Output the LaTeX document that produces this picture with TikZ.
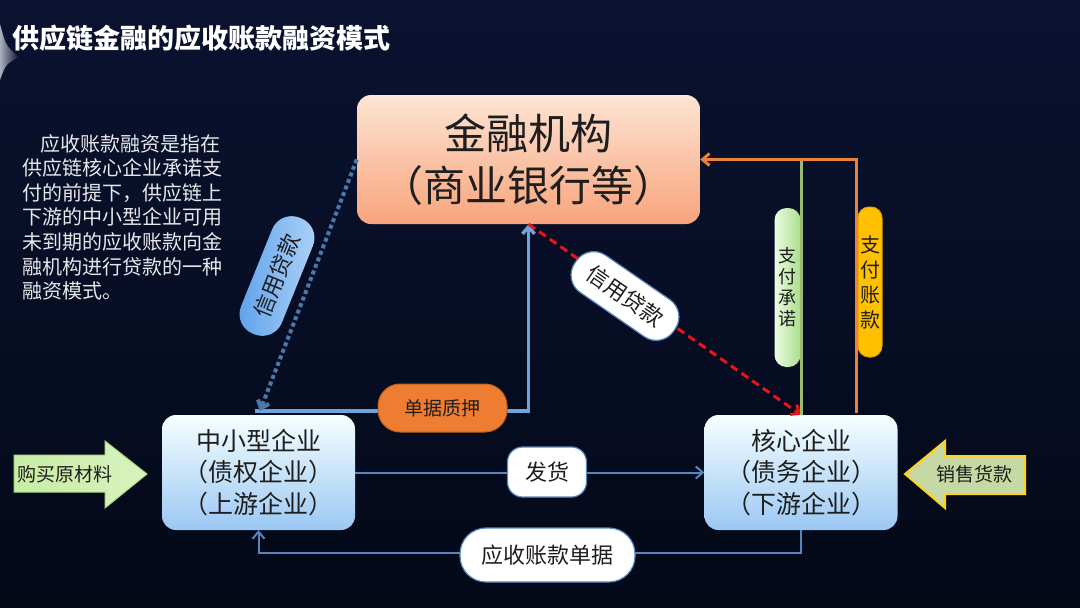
\documentclass[tikz,border=0pt]{standalone}
\usepackage{fontspec}
\setmainfont{Noto Sans CJK SC}
\usetikzlibrary{arrows.meta,calc}
\definecolor{bgtop}{HTML}{0A1230}
\definecolor{bgbot}{HTML}{040918}
\definecolor{txt}{HTML}{1E1E1E}
\definecolor{linkblue}{HTML}{5686C0}
\definecolor{pledgeblue}{HTML}{6FA3DC}
\definecolor{dotblue}{HTML}{4A78A8}
\definecolor{redline}{HTML}{E8141A}
\definecolor{orangeline}{HTML}{E8823D}
\definecolor{greenline}{HTML}{9BBB73}
\definecolor{pledgefill}{HTML}{EF7D31}
\definecolor{goldfill}{HTML}{FFC000}
\tikzset{
  tip/.style={-{Straight Barb[length=7pt,width=12pt]}},
  entity/.style={draw=none, rounded corners=14pt, minimum width=193pt, minimum height=115pt,
    top color=blue!4!cyan!4!white, bottom color={rgb,255:red,156;green,200;blue,244},
    align=center, text=txt, font=\fontsize{25}{31.5}\selectfont, inner sep=0pt},
  whitelabel/.style={fill=white, draw=linkblue, line width=1.2pt, text=txt,
    font=\fontsize{22}{26}\selectfont, inner sep=0pt},
  vlabel/.style={align=center, inner sep=0pt, text=txt}
}
\begin{document}
\begin{tikzpicture}[x=1pt,y=-1pt]
% background
\shade[top color=bgtop, bottom color=bgbot] (0,0) rectangle (1080,608);
\useasboundingbox (0,0) rectangle (1080,608);
% left notch
\shade[left color={rgb,255:red,170;green,174;blue,188}, right color=bgtop]
  (0,24) .. controls (6,46) .. (19,57) .. controls (6,64) .. (0,80) -- cycle;

% title
\node[anchor=west, text=white, font=\fontsize{27}{30}\selectfont\bfseries, inner sep=0pt]
  (title) at (12,38) {供应链金融的应收账款融资模式};

% description
\node[anchor=north west, align=left, inner sep=0pt, text={rgb,255:red,232;green,232;blue,236},
  font=\fontsize{20}{24.6}\selectfont] (desc) at (22,134)
  {\hspace*{18pt}应收账款融资是指在\\供应链核心企业承诺支\\付的前提下，供应链上\\下游的中小型企业可用\\未到期的应收账款向金\\融机构进行贷款的一种\\融资模式。};

% main boxes
\node[rounded corners=14pt, minimum width=343pt, minimum height=129pt,
  top color={rgb,255:red,253;green,228;blue,212}, bottom color={rgb,255:red,248;green,164;blue,124},
  align=center, text=txt, font=\fontsize{42}{52}\selectfont, inner sep=0pt]
  (bank) at (528.5,159.5) {金融机构\\（商业银行等）};
\node[entity] (sme) at (258.5,472.5) {中小型企业\\（债权企业）\\（上游企业）};
\node[entity] (core) at (801,472.5) {核心企业\\（债务企业）\\（下游企业）};

% coordinates
\coordinate (pstart) at ($(sme.north)+(-4,-4)$);
\coordinate (gtop) at (801,160);
\coordinate (obot) at (856,413);

% shipment
\draw[linkblue, line width=2pt, tip] (sme.east) -- (core.west);
\node[whitelabel, rounded corners=15pt, minimum width=79pt, minimum height=50pt]
  (ship) at (547,472) {发货};

% receivable documents
\draw[linkblue, line width=2pt, tip] (core.south) -- ++(0,23) -| (sme.south);
\node[whitelabel, rounded corners=26pt, minimum width=175pt, minimum height=54pt]
  (recv) at (547.5,555) {应收账款单据};

% pledge
\draw[pledgeblue, line width=3.5pt, tip] (pstart) -| (bank.south);
\node[fill=pledgefill, draw={rgb,255:red,190;green,95;blue,28}, line width=1pt,
  rounded corners=22pt, minimum width=129pt, minimum height=48pt, text=txt,
  font=\fontsize{19}{22}\selectfont, inner sep=0pt] (pledge) at (442.5,408) {单据质押};

% credit loan to SME (dotted)
\draw[dotblue, line width=4pt, dash pattern=on 4pt off 3pt, tip, shorten >=4pt] (bank.west) -- (sme.north);
\node[rotate=68, rounded corners=21pt, minimum width=125pt, minimum height=44pt,
  left color={rgb,255:red,92;green,160;blue,234}, right color={rgb,255:red,176;green,212;blue,248},
  text=txt, font=\fontsize{22}{26}\selectfont, inner sep=0pt] (credit1) at (277,276) {信用贷款};

% credit loan to core (red dashed)
\draw[redline, line width=3pt, dash pattern=on 8pt off 5pt, tip] (bank.south) -- (core.north);
\node[whitelabel, rotate=-34.6, rounded corners=21pt, minimum width=120pt, minimum height=45pt]
  (credit2) at (625,296) {信用贷款};

% payment promise (green)
\draw[greenline, line width=3pt] (core.north) -- (gtop);
\node[vlabel, rounded corners=12pt, minimum width=26pt, minimum height=159pt,
  left color={rgb,255:red,236;green,252;blue,226}, right color={rgb,255:red,170;green,222;blue,140},
  font=\fontsize{18}{21}\selectfont] (promise) at (787.5,287.5) {支\\付\\承\\诺};

% payment of accounts (orange)
\draw[orangeline, line width=3pt, tip] (obot) |- (bank.east);
\node[vlabel, rounded corners=11pt, minimum width=24pt, minimum height=150pt,
  fill=goldfill, draw={rgb,255:red,225;green,160;blue,0}, line width=1pt,
  font=\fontsize{20}{25}\selectfont] (pay) at (870,282) {支\\付\\账\\款};

% buy raw materials arrow
\fill[left color={rgb,255:red,200;green,236;blue,165}, right color={rgb,255:red,216;green,243;blue,190},
  draw={rgb,255:red,170;green,218;blue,128}, line width=1pt]
  (14,455) -- (105,455) -- (105,441) -- (147,474) -- (105,508) -- (105,492) -- (14,492) -- cycle;
\node[text=txt, font=\fontsize{19}{22}\selectfont, inner sep=0pt] (buy) at (65,474) {购买原材料};

% sales payment arrow
\fill[fill={rgb,255:red,198;green,217;blue,164}, draw={rgb,255:red,255;green,210;blue,30}, line width=2pt]
  (905,474) -- (945,441) -- (945,456) -- (1025,456) -- (1025,494) -- (945,494) -- (945,508) -- cycle;
\node[text=txt, font=\fontsize{19}{22}\selectfont, inner sep=0pt] (sell) at (974,474) {销售货款};
\end{tikzpicture}
\end{document}
